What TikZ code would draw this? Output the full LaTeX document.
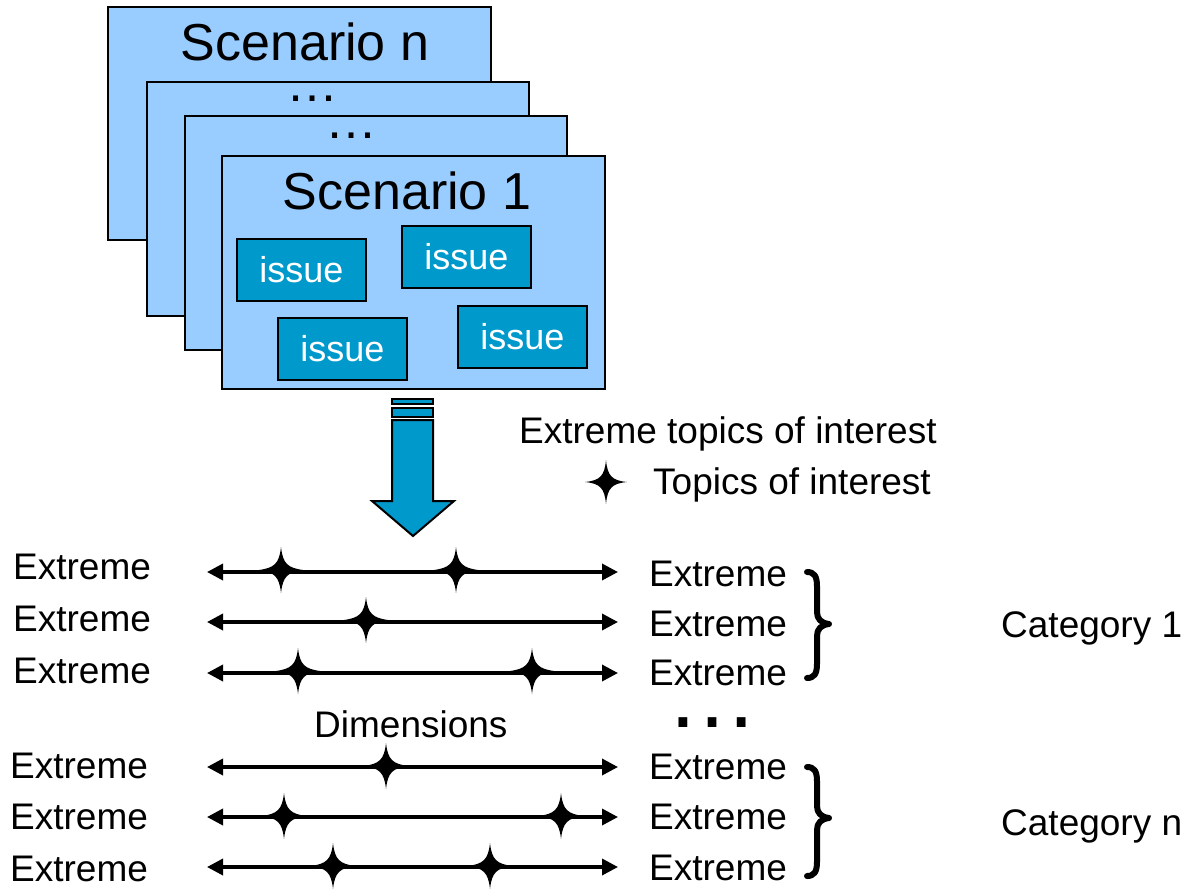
\documentclass[tikz,border=0pt]{standalone}
\usepackage{fontspec}
\setmainfont{Liberation Sans}
\usetikzlibrary{arrows.meta}
\definecolor{lightbox}{RGB}{153,204,255}
\definecolor{issueblue}{RGB}{0,153,204}
\tikzset{
  lbl/.style={font=\fontsize{37}{40}\selectfont, inner sep=0pt, anchor=base west},
  scen/.style={draw=black, line width=2pt, fill=lightbox},
  issuebox/.style={draw=black, line width=2pt, fill=issueblue, text=white,
    minimum width=129pt, minimum height=62pt, inner sep=0pt,
    font=\fontsize{36}{40}\selectfont},
  big/.style={font=\fontsize{52}{56}\selectfont, inner sep=0pt, anchor=base},
  dimline/.style={line width=3.5pt, {Triangle[length=16pt,width=16pt]}-{Triangle[length=16pt,width=16pt]}},
  bracepath/.style={line width=6pt, line cap=round, line join=round},
  tstar/.pic={\fill (0,-22) .. controls (1.5,-6) and (6,-1.5) .. (21,0)
      .. controls (6,1.5) and (1.5,6) .. (0,22)
      .. controls (-1.5,6) and (-6,1.5) .. (-21,0)
      .. controls (-6,-1.5) and (-1.5,-6) .. cycle;},
  fstar/.pic={\fill (0,-23) .. controls (1.8,-6) and (7,-2.2) .. (22,0)
      .. controls (7,2.2) and (1.8,6) .. (0,23)
      .. controls (-1.8,6) and (-7,2.2) .. (-22,0)
      .. controls (-7,-2.2) and (-1.8,-6) .. cycle;}
}
\begin{document}
\begin{tikzpicture}[x=1pt,y=-1pt]
\useasboundingbox (0,0) rectangle (1187,892);
% stacked scenarios
\draw[scen] (108,7) rectangle (491,240);
\node[big] (sn) at (305,60) {Scenario n};
\draw[scen] (147,82) rectangle (529,316);
\node[big] (d2) at (312,101) {\smash{…}};
\draw[scen] (185,116) rectangle (567,350);
\node[big] (d3) at (351,138) {\smash{…}};
\draw[scen] (222,156) rectangle (605,389);
\node[big] (s1) at (407,209) {Scenario 1};
% issues
\node[issuebox] (i1) at (301.5,269.5) {issue};
\node[issuebox] (i2) at (466.5,257) {issue};
\node[issuebox] (i3) at (342.5,349) {issue};
\node[issuebox] (i4) at (522.5,337) {issue};
% big arrow
\draw[line width=2pt, fill=issueblue] (392,399) rectangle (433,404);
\draw[line width=2pt, fill=issueblue] (392,408) rectangle (433,417);
\draw[line width=2pt, fill=issueblue, line join=miter]
  (392,420) -- (433,420) -- (433,501) -- (454,501) -- (413,536) -- (372,501) -- (392,501) -- cycle;
% legend
\node[lbl] (leg1) at (519,443) {Extreme topics of interest};
\pic at (606,482) {tstar};
\node[lbl] (leg2) at (653,494) {Topics of interest};
% dimension lines
\foreach \n/\y in {1/572,2/622,3/673,4/767,5/817,6/867}{
  \coordinate (l\n a) at (207,\y);
  \coordinate (l\n b) at (618,\y);
  \draw[dimline] (l\n a) -- (l\n b);
}
\foreach \x/\y in {281/570,456/570,366/620,298/671,532/671,386/766,284/816,561/816,333/866,490/866}{
  \pic at (\x,\y) {fstar};
}
% left labels
\foreach \n/\y in {1/579,2/631,3/683}{
  \node[lbl] (le\n) at (13,\y) {Extreme};
}
\foreach \n/\y in {4/778,5/829,6/881}{
  \node[lbl] (le\n) at (10,\y) {Extreme};
}
% right labels
\foreach \n/\y in {1/586,2/636,3/685,4/779,5/829,6/880}{
  \node[lbl] (re\n) at (649,\y) {Extreme};
}
\node[lbl] (dim) at (314,737) {Dimensions};
\node[font=\fontsize{92}{96}\selectfont, inner sep=0pt, anchor=base] (ell) at (712,727) {\smash{…}};
% braces
\draw[bracepath] (807,572) .. controls (814,572) and (817,576) .. (817,586) -- (817,612)
  .. controls (817,619) and (821,623) .. (829,624)
  .. controls (821,625) and (817,629) .. (817,636) -- (817,664)
  .. controls (817,674) and (814,678) .. (807,678);
\draw[bracepath] (807,767) .. controls (814,767) and (817,771) .. (817,781) -- (817,806)
  .. controls (817,813) and (821,817) .. (829,818)
  .. controls (821,819) and (817,823) .. (817,830) -- (817,862)
  .. controls (817,872) and (814,876) .. (807,876);
\node[lbl] (c1) at (1001,637) {Category 1};
\node[lbl] (cn) at (1001,835) {Category n};
\end{tikzpicture}
\end{document}
